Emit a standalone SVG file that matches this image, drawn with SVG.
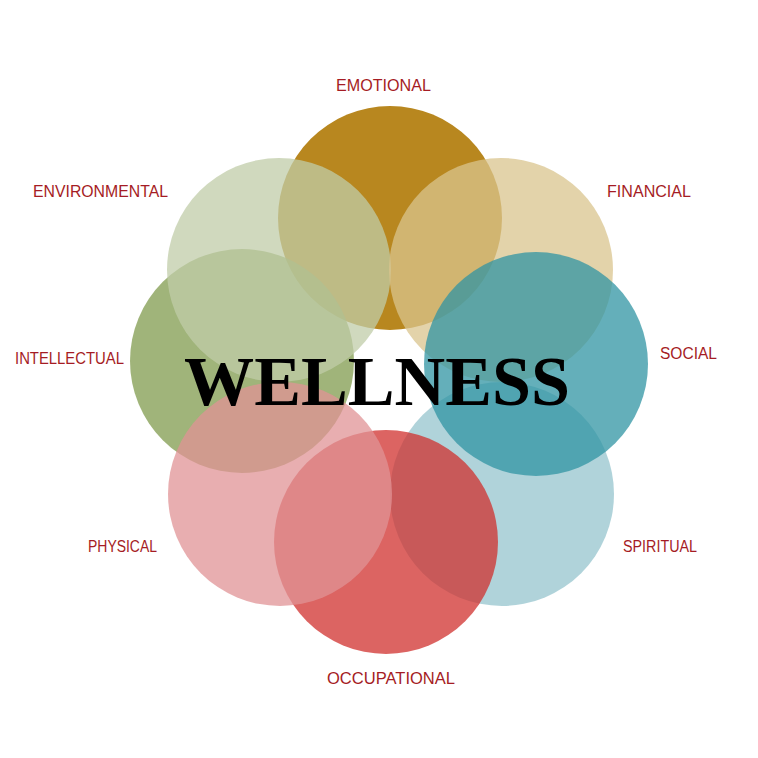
<svg xmlns="http://www.w3.org/2000/svg" width="758" height="758" viewBox="0 0 758 758">
<style>
.lbl{font-family:"Liberation Sans",Arial,sans-serif;font-size:16px;fill:#A51C24;}
.title{font-family:"Liberation Serif","Times New Roman",serif;font-size:70px;font-weight:bold;fill:#000;}
.c{fill-opacity:0.75;}
</style>
<rect width="758" height="758" fill="#ffffff"/>
<g id="emotional"><circle cx="390" cy="218" r="112" fill="#B8871F"/></g>
<g id="intellectual"><circle class="c" cx="242" cy="361" r="112" fill="#809B4E"/></g>
<g id="environmental"><circle class="c" cx="279" cy="270" r="112" fill="#C0CCA8"/></g>
<g id="financial"><circle class="c" cx="501" cy="270" r="112" fill="#DAC48E"/></g>
<g id="spiritual"><circle class="c" cx="502" cy="494" r="112" fill="#96C4CD"/></g>
<g id="social"><circle class="c" cx="536" cy="364" r="112" fill="#3094A3"/></g>
<g id="occupational"><circle class="c" cx="386" cy="542" r="112" fill="#D0302E"/></g>
<g id="physical"><circle class="c" cx="280" cy="494" r="112" fill="#E09396"/></g>
<g id="labels">
<text class="lbl" x="336" y="91" textLength="95" lengthAdjust="spacingAndGlyphs">EMOTIONAL</text>
<text class="lbl" x="33" y="197" textLength="135" lengthAdjust="spacingAndGlyphs">ENVIRONMENTAL</text>
<text class="lbl" x="607" y="197" textLength="84" lengthAdjust="spacingAndGlyphs">FINANCIAL</text>
<text class="lbl" x="15" y="364" textLength="109" lengthAdjust="spacingAndGlyphs">INTELLECTUAL</text>
<text class="lbl" x="660" y="359" textLength="57" lengthAdjust="spacingAndGlyphs">SOCIAL</text>
<text class="lbl" x="88" y="552" textLength="69" lengthAdjust="spacingAndGlyphs">PHYSICAL</text>
<text class="lbl" x="623" y="552" textLength="74" lengthAdjust="spacingAndGlyphs">SPIRITUAL</text>
<text class="lbl" x="327" y="684" textLength="128" lengthAdjust="spacingAndGlyphs">OCCUPATIONAL</text>
</g>
<g id="wellness"><text class="title" x="184" y="405" textLength="386" lengthAdjust="spacingAndGlyphs">WELLNESS</text></g>
</svg>
